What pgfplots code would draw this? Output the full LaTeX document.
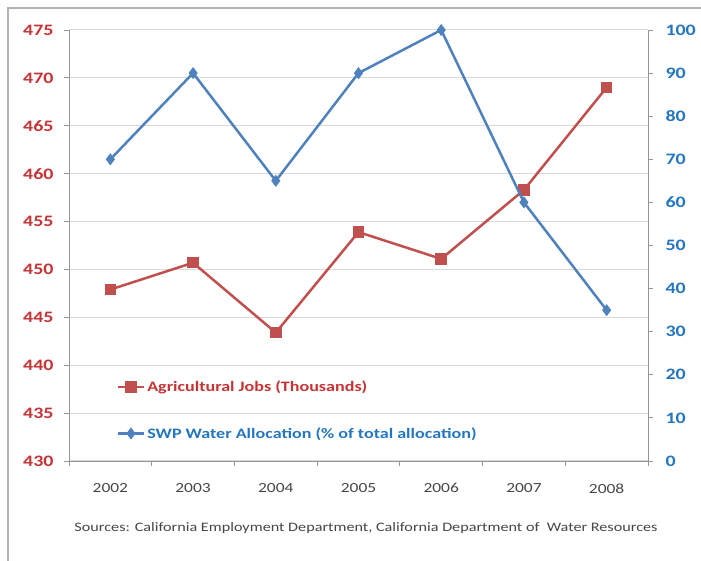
\documentclass[border=0pt]{standalone}
\usepackage{fontspec}
\setmainfont{Carlito}[FakeStretch=1.25]
\usepackage{pgfplots}
\pgfplotsset{compat=1.18}
\definecolor{jobred}{RGB}{192,80,77}
\definecolor{jobtxt}{RGB}{196,52,52}
\definecolor{swpblue}{RGB}{79,129,189}
\definecolor{swptxt}{RGB}{36,118,192}
\definecolor{gridgray}{RGB}{217,217,217}
\definecolor{axgray}{RGB}{150,150,150}
\definecolor{srcgray}{RGB}{70,70,70}

\begin{document}
\begin{tikzpicture}
\useasboundingbox (0,0) rectangle (701bp,561bp);
\draw[gray!60, line width=1.5bp] (8bp,0) -- (8bp,553bp) -- (701bp,553bp);

% left axis: agricultural jobs
\begin{axis}[
  at={(69bp,100bp)}, anchor=south west,
  scale only axis, width=579bp, height=431bp,
  xmin=-0.5, xmax=6.5, ymin=430, ymax=475,
  axis x line*=bottom, axis y line*=left,
  axis line style={axgray, line width=0.8bp},
  tick align=outside, tick style={axgray, line width=0.8bp},
  xtick={0,1,2,3,4,5,6},
  xticklabels={2002,2003,2004,2005,2006,2007,2008},
  major x tick style={draw=none},
  minor xtick={-0.5,0.5,1.5,2.5,3.5,4.5,5.5,6.5},
  minor tick length=5bp, major tick length=5bp,
  xticklabel style={text=srcgray, font=\fontsize{14}{17}\selectfont, yshift=-14bp},
  ytick={430,435,...,475},
  yticklabel style={text=jobtxt, font=\fontsize{16}{18}\selectfont\bfseries, xshift=-7bp},
  /pgf/number format/assume math mode=true,
  ymajorgrids, grid style={gridgray, line width=1bp},
  legend style={at={(0.077,0.195)}, anchor=north west, draw=none, fill=none,
    font=\fontsize{14.5}{17}\selectfont\bfseries, row sep=30bp},
  legend cell align=left,
  legend image code/.code={\draw[mark repeat=2, mark phase=2] plot coordinates {(0bp,0bp) (13bp,0bp) (26bp,0bp)};},
]
\addplot[jobred, line width=2.5bp, mark=square*, mark size=4.5bp, mark options={solid}]
  coordinates {(0,447.9) (1,450.7) (2,443.4) (3,453.9) (4,451.1) (5,458.3) (6,469.0)};
\addlegendentry{\textcolor{jobtxt}{Agricultural Jobs (Thousands)}}
\addlegendimage{swpblue, line width=2.5bp, mark=diamond*, mark size=4bp}
\addlegendentry{\textcolor{swptxt}{SWP Water Allocation (\% of total allocation)}}
\end{axis}

% right axis: SWP water allocation
\begin{axis}[
  at={(69bp,100bp)}, anchor=south west,
  scale only axis, width=579bp, height=431bp,
  xmin=-0.5, xmax=6.5, ymin=0, ymax=100,
  axis x line=none, axis y line*=right,
  axis line style={axgray, line width=0.8bp},
  tick align=outside, tick style={axgray, line width=0.8bp}, major tick length=5bp,
  ytick={0,10,...,100},
  yticklabel style={text=swptxt, font=\fontsize{16}{18}\selectfont\bfseries, xshift=9bp},
  /pgf/number format/assume math mode=true,
]
\addplot[swpblue, line width=2.5bp, mark=diamond*, mark size=4bp]
  coordinates {(0,70) (1,90) (2,65) (3,90) (4,100) (5,60) (6,35)};
\end{axis}

\node[text=srcgray, font=\fontsize{13}{15}\selectfont] at (366bp,33bp)
  {Sources: California Employment Department, California Department of \ Water Resources};
\end{tikzpicture}
\end{document}
